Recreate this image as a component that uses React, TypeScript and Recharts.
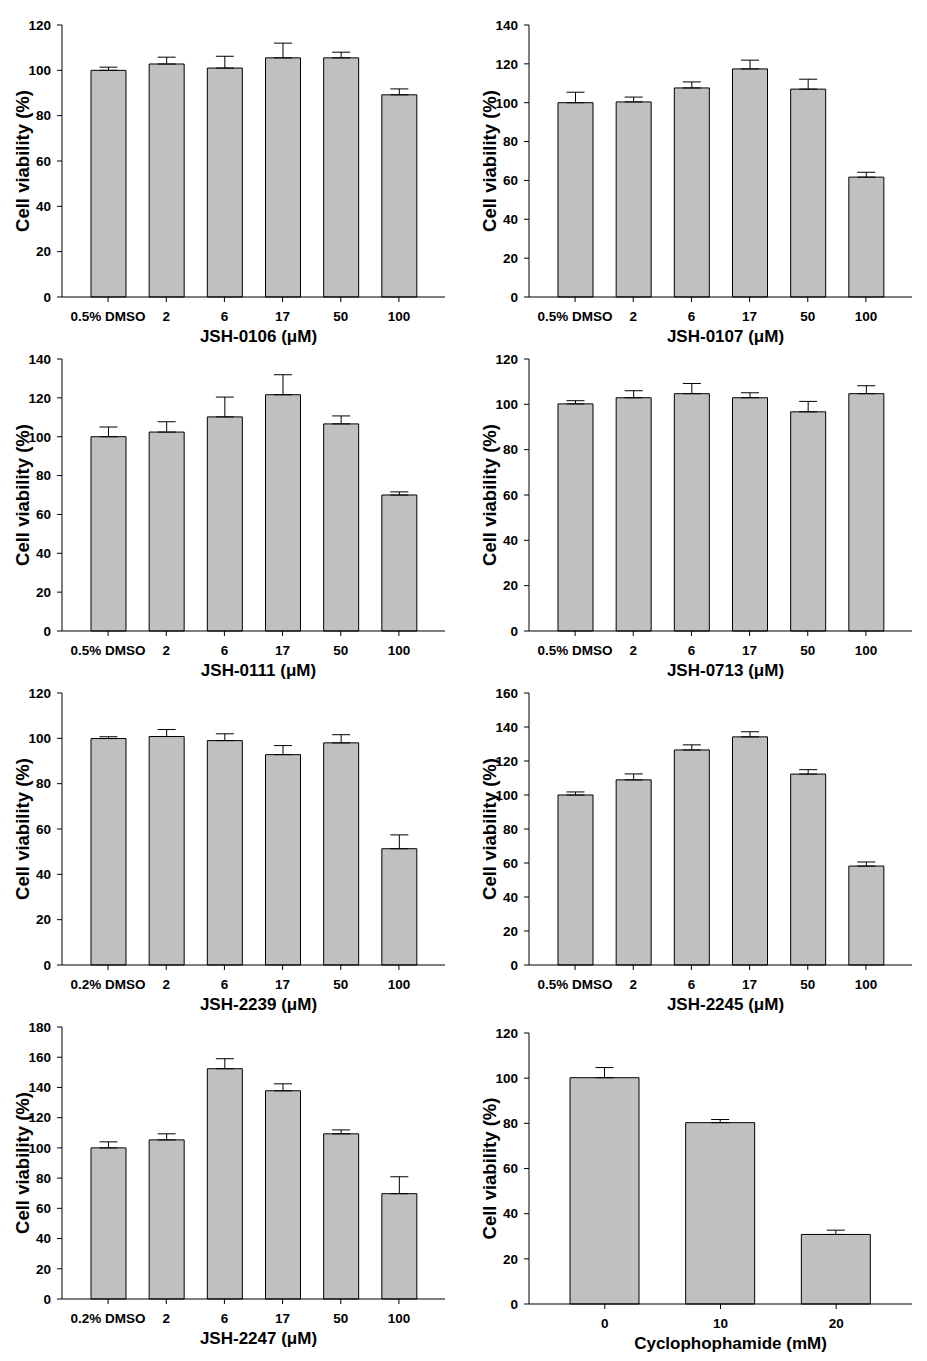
import { BarChart, Bar, XAxis, YAxis, ErrorBar } from "recharts";

// category labels
const dose05 = ["0.5% DMSO", "2", "6", "17", "50", "100"];
const dose02 = ["0.2% DMSO", "2", "6", "17", "50", "100"];
const cycloDose = ["0", "10", "20"];

// y tick sets
const ticks120 = [0, 20, 40, 60, 80, 100, 120];
const ticks140 = [0, 20, 40, 60, 80, 100, 120, 140];
const ticks160 = [0, 20, 40, 60, 80, 100, 120, 140, 160];
const ticks180 = [0, 20, 40, 60, 80, 100, 120, 140, 160, 180];

// cell viability (%) and upper error per compound
const viab0106 = [100, 102.8, 101, 105.5, 105.5, 89.2];
const err0106 = [1.4, 3, 5.2, 6.5, 2.5, 2.6];

const viab0107 = [100, 100.4, 107.6, 117.4, 107, 61.7];
const err0107 = [5.4, 2.5, 3.1, 4.5, 5.1, 2.5];

const viab0111 = [100, 102.4, 110.2, 121.6, 106.6, 70];
const err0111 = [5, 5.3, 10.2, 10.3, 4.1, 1.6];

const viab0713 = [100.2, 102.9, 104.7, 102.9, 96.7, 104.7];
const err0713 = [1.4, 3.1, 4.5, 2.2, 4.6, 3.5];

const viab2239 = [99.9, 100.8, 99, 92.8, 98, 51.3];
const err2239 = [0.8, 3.1, 3, 4, 3.6, 6.1];

const viab2245 = [100, 108.9, 126.5, 134.2, 112.3, 58.2];
const err2245 = [1.8, 3.5, 3, 3, 2.6, 2.4];

const viab2247 = [100, 105.3, 152.4, 137.8, 109.3, 69.7];
const err2247 = [4, 4, 6.6, 4.6, 2.6, 11.2];

const viabCyclo = [100.2, 80.3, 30.8];
const errCyclo = [4.5, 1.4, 1.9];

const FONT = "'Liberation Sans', Arial, Helvetica, sans-serif";

interface PanelProps {
  left: number;
  top: number;
  labels: string[];
  values: number[];
  errs: number[];
  yTicks: number[];
  xTitle: string;
  barSize?: number;
  pad?: number;
  titleDx?: number;
  plotHeight?: number;
}

function ViabilityPanel({
  left,
  top,
  labels,
  values,
  errs,
  yTicks,
  xTitle,
  barSize = 35,
  pad = 17,
  titleDx = 5,
  plotHeight = 272,
}: PanelProps) {
  // one-sided (upper) error bars
  const data = labels.map((name, i) => ({ name, value: values[i], err: [0, errs[i]] }));
  const yMax = yTicks[yTicks.length - 1];
  const tickStyle = { fill: "#000", fontSize: 13.5, fontWeight: "bold", fontFamily: FONT };

  return (
    <div style={{ position: "absolute", left, top }}>
      <BarChart
        width={460}
        height={20 + plotHeight + 48}
        data={data}
        margin={{ top: 20, right: 15, left: 2, bottom: 0 }}
      >
        <XAxis
          dataKey="name"
          type="category"
          interval={0}
          padding={{ left: pad, right: pad }}
          height={48}
          axisLine={{ stroke: "#000" }}
          tickLine={{ stroke: "#000" }}
          tickSize={5}
          tickMargin={9}
          tick={tickStyle}
          label={{
            value: xTitle,
            position: "insideBottom",
            offset: 3,
            dx: titleDx,
            fill: "#000",
            fontSize: 17,
            fontWeight: "bold",
            fontFamily: FONT,
          }}
        />
        <YAxis
          type="number"
          domain={[0, yMax]}
          ticks={yTicks}
          interval={0}
          width={60}
          axisLine={{ stroke: "#000" }}
          tickLine={{ stroke: "#000" }}
          tickSize={5}
          tickMargin={6}
          tick={tickStyle}
          label={{
            value: "Cell viability (%)",
            angle: -90,
            position: "insideLeft",
            offset: 20,
            fill: "#000",
            fontSize: 18.5,
            fontWeight: "bold",
            fontFamily: FONT,
            style: { textAnchor: "middle" },
          }}
        />
        {/* frame: top and right edges */}
        <XAxis
          xAxisId="top"
          orientation="top"
          type="number"
          domain={[0, 1]}
          tick={false}
          tickLine={false}
          height={0}
          axisLine={{ stroke: "#000" }}
        />
        <YAxis
          yAxisId="right"
          orientation="right"
          type="number"
          domain={[0, 1]}
          tick={false}
          tickLine={false}
          width={0}
          axisLine={{ stroke: "#000" }}
        />
        <Bar
          dataKey="value"
          fill="#c0c0c0"
          stroke="#000"
          strokeWidth={1}
          barSize={barSize}
          isAnimationActive={false}
        >
          <ErrorBar dataKey="err" direction="y" width={9} stroke="#000" strokeWidth={1} isAnimationActive={false} />
        </Bar>
      </BarChart>
    </div>
  );
}

export default function App() {
  return (
    <div style={{ position: "absolute", left: 0, top: 0, width: 927, height: 1361, background: "#fff" }}>
      <ViabilityPanel left={0} top={5} labels={dose05} values={viab0106} errs={err0106} yTicks={ticks120} xTitle="JSH-0106 (μM)" />
      <ViabilityPanel left={467} top={5} labels={dose05} values={viab0107} errs={err0107} yTicks={ticks140} xTitle="JSH-0107 (μM)" />
      <ViabilityPanel left={0} top={339} labels={dose05} values={viab0111} errs={err0111} yTicks={ticks140} xTitle="JSH-0111 (μM)" />
      <ViabilityPanel left={467} top={339} labels={dose05} values={viab0713} errs={err0713} yTicks={ticks120} xTitle="JSH-0713 (μM)" />
      <ViabilityPanel left={0} top={673} labels={dose02} values={viab2239} errs={err2239} yTicks={ticks120} xTitle="JSH-2239 (μM)" />
      <ViabilityPanel left={467} top={673} labels={dose05} values={viab2245} errs={err2245} yTicks={ticks160} xTitle="JSH-2245 (μM)" />
      <ViabilityPanel left={0} top={1007} labels={dose02} values={viab2247} errs={err2247} yTicks={ticks180} xTitle="JSH-2247 (μM)" />
      <ViabilityPanel
        left={467}
        top={1013}
        labels={cycloDose}
        values={viabCyclo}
        errs={errCyclo}
        yTicks={ticks120}
        xTitle="Cyclophophamide (mM)"
        barSize={69}
        pad={18}
        titleDx={10}
        plotHeight={271}
      />
    </div>
  );
}
